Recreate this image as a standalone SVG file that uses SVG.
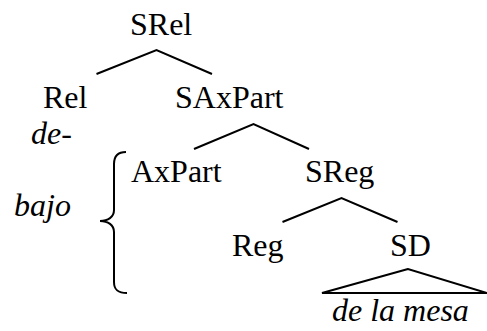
<svg xmlns="http://www.w3.org/2000/svg" width="487" height="331" viewBox="0 0 487 331">
<style>
text{font-family:'Liberation Serif','Times New Roman',serif;font-size:32px;fill:#000}
.it{font-style:italic}
.ln{stroke:#000;stroke-width:2;fill:none}
</style>
<rect width="487" height="331" fill="#fff"/>
<g id="connectors">
<polyline class="ln" points="96.5,74 156.5,50 212,74"/>
<polyline class="ln" points="194,149 253.5,124 309,149"/>
<polyline class="ln" points="282.5,222 341.5,198 397.5,222"/>
<polygon class="ln" points="408,269 322,293 487,293"/>
</g>
<g id="SRel"><text x="130" y="35">SRel</text></g>
<g id="Rel"><text x="43" y="108">Rel</text></g>
<g id="SAxPart"><text x="175" y="108">SAxPart</text></g>
<g id="AxPart"><text x="131" y="182">AxPart</text></g>
<g id="SReg"><text x="305" y="182">SReg</text></g>
<g id="Reg"><text x="232" y="256">Reg</text></g>
<g id="SD"><text x="390" y="256">SD</text></g>
<g id="leaf"><text class="it" x="332" y="321">de la mesa</text></g>
<g id="gloss">
<text class="it" x="31" y="144">de-</text>
<text class="it" x="14" y="216">bajo</text>
<path class="ln" d="M126,152 C118,152 114,156 114,164 L114,210 C114,217 108,221 100,221 C108,221 114,225 114,232 L114,282 C114,290 118,293 127,293"/>
</g>
</svg>
